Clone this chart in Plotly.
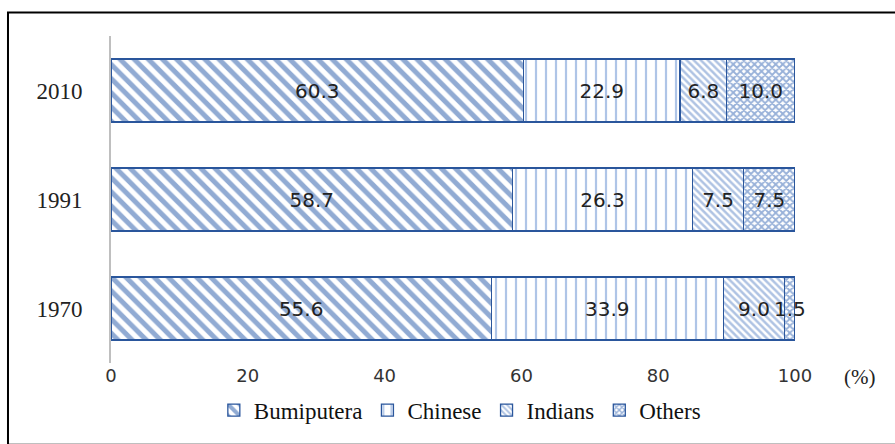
import plotly.graph_objects as go

years = ["1970", "1991", "2010"]
groups = ["Bumiputera", "Chinese", "Indians", "Others"]
bumiputera = [55.6, 58.7, 60.3]
chinese = [33.9, 26.3, 22.9]
indians = [9.0, 7.5, 6.8]
others = [1.5, 7.5, 10.0]
x_ticks = [0, 20, 40, 60, 80, 100]

series = [bumiputera, chinese, indians, others]
patterns = [
    dict(shape="\\", size=10, solidity=0.5, fgcolor="#2457A8", bgcolor="white", fillmode="overlay"),
    dict(shape="|", size=10, solidity=0.22, fgcolor="#5F8CD0", bgcolor="white", fillmode="overlay"),
    dict(shape="\\", size=5, solidity=0.5, fgcolor="#5F88C8", bgcolor="white", fillmode="overlay"),
    dict(shape="x", size=5, solidity=0.6, fgcolor="#2F62B2", bgcolor="white", fillmode="overlay"),
]

serif = "Liberation Serif, Times New Roman, serif"

fig = go.Figure()
for name, vals, pat in zip(groups, series, patterns):
    fig.add_trace(go.Bar(
        name=name, y=years, x=vals, orientation="h",
        marker=dict(color="white", pattern=pat, line=dict(color="#2A569C", width=1.3)),
        text=[f"{v:.1f}" for v in vals], textposition="inside", insidetextanchor="middle",
        textangle=0, cliponaxis=False, constraintext="none",
        textfont=dict(family="DejaVu Sans", size=20, color="#222222"),
    ))

fig.update_layout(
    barmode="stack", bargap=0.42,
    width=895, height=444,
    margin=dict(l=111, r=100, t=36, b=75),
    paper_bgcolor="white", plot_bgcolor="white",
    font=dict(family=serif),
    showlegend=True,
    legend=dict(orientation="h", x=0.51, xanchor="center", y=-0.144, yanchor="middle",
                font=dict(family=serif, size=23, color="#111111"),
                itemwidth=30, traceorder="normal", bgcolor="rgba(0,0,0,0)"),
    xaxis=dict(range=[0, 100], tickvals=x_ticks, showgrid=False, zeroline=False,
               showline=False, ticks="", tickfont=dict(family="DejaVu Sans", size=18, color="#333333")),
    yaxis=dict(showgrid=False, zeroline=False, showline=True, linecolor="#BFBFBF", linewidth=2,
               ticks="", ticklabelstandoff=22,
               tickfont=dict(family=serif, size=23, color="#222222")),
)

# "(%)" axis unit label
fig.add_annotation(text="(%)", xref="paper", yref="paper", x=1.095, y=-0.042,
                   showarrow=False, xanchor="center", yanchor="middle",
                   font=dict(family=serif, size=21, color="#222222"))

# outer frame
fig.add_shape(type="rect", xref="paper", yref="paper",
              x0=-0.1506, x1=1.16, y0=-0.25, y1=1.072,
              line=dict(color="black", width=2), fillcolor="rgba(0,0,0,0)", layer="above")

fig.write_html("out.html")
